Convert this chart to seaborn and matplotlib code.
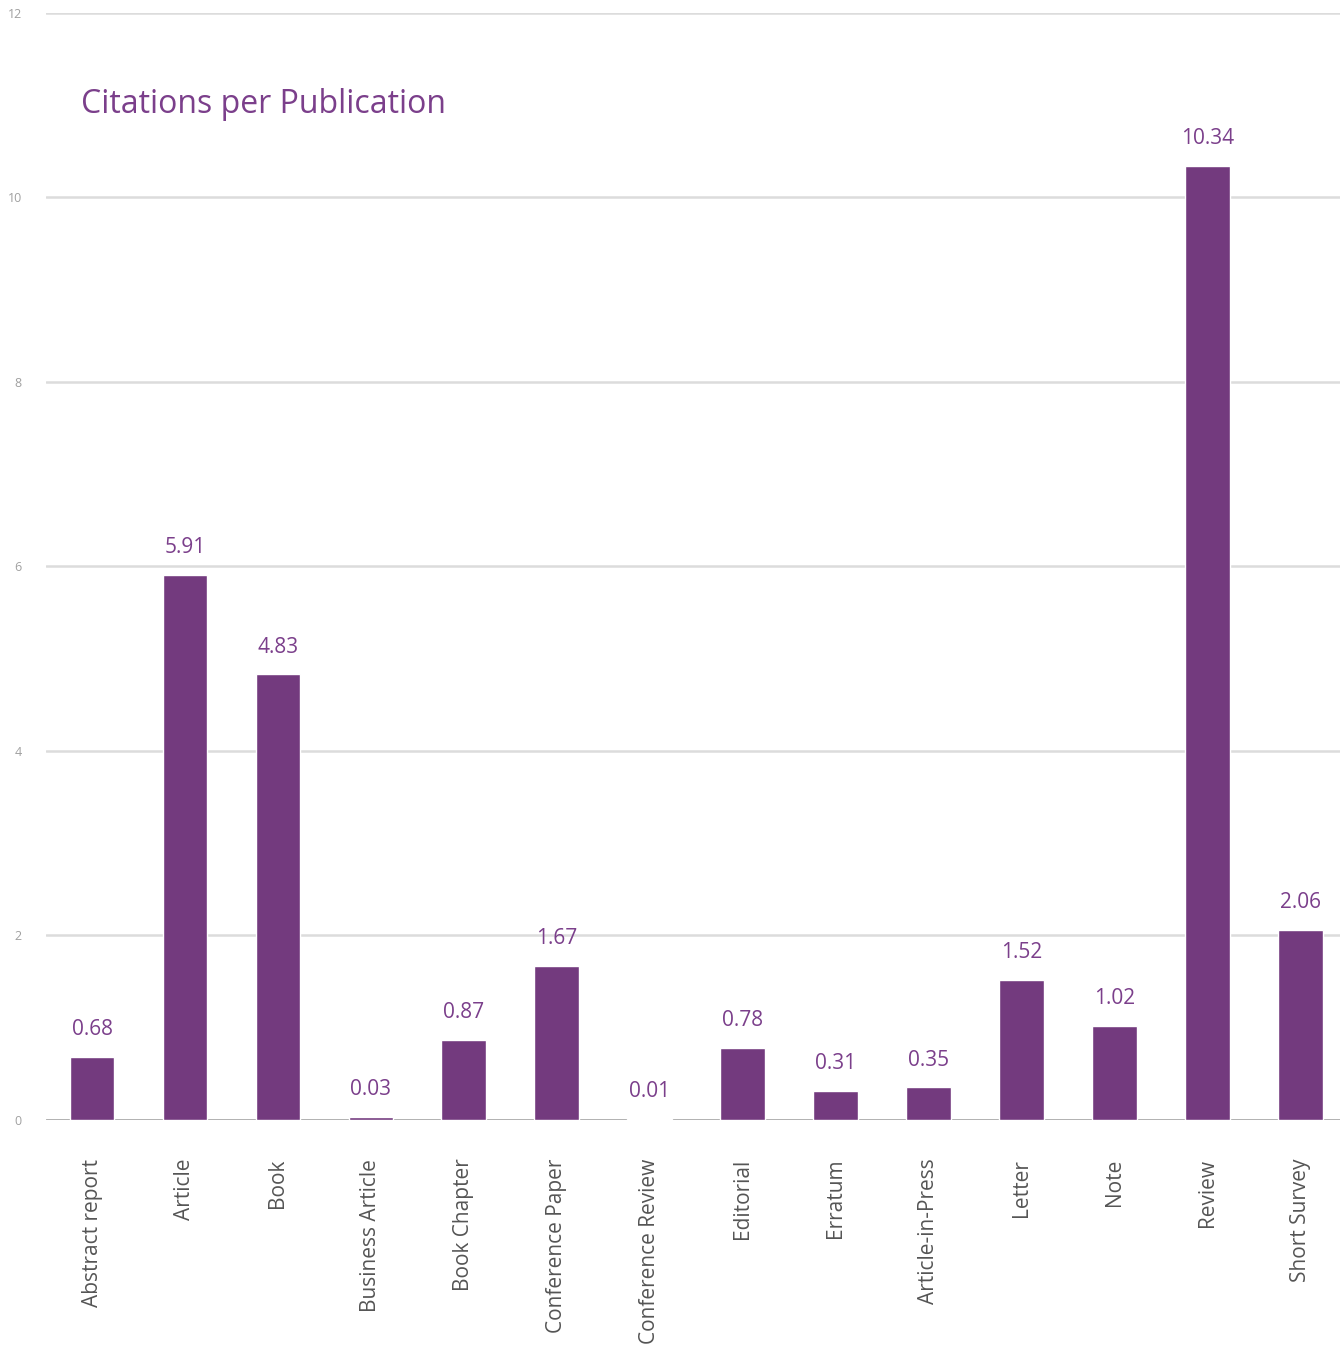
import seaborn as sns
import matplotlib.pyplot as plt
import pandas as pd

# 数据
categories = ['Abstract report', 'Article', 'Book', 'Business Article', 'Book Chapter',
              'Conference Paper', 'Conference Review', 'Editorial', 'Erratum',
              'Article-in-Press', 'Letter', 'Note', 'Review', 'Short Survey']
values = [0.68, 5.91, 4.83, 0.03, 0.87, 1.67, 0.01, 0.78, 0.31, 0.35, 1.52, 1.02, 10.34, 2.06]
y_ticks = [0, 2, 4, 6, 8, 10, 12]

df = pd.DataFrame({'type': categories, 'cpp': values})

sns.set_style('white')
plt.rcParams['font.family'] = ['Open Sans', 'DejaVu Sans']

bar_color = '#733a7e'
text_purple = '#7b3f8b'

fig = plt.figure(figsize=(13.4, 13.54), dpi=100)
ax = fig.add_axes([0.034, 0.173, 0.971, 0.8175])

# 网格线（放在柱子下面）
for t in y_ticks:
    ax.axhline(t, color='#9a9a9a' if t == 0 else '#dcdcdc', lw=1.8, zorder=0)

sns.barplot(data=df, x='type', y='cpp', color=bar_color, saturation=1, width=0.48, ax=ax, zorder=3)

# 数值标签
ax.bar_label(ax.containers[0], labels=[f'{v:.2f}' for v in values],
             padding=12, fontsize=15, color=text_purple)

ax.set_ylim(0, 12)
ax.set_xlim(-0.5, len(categories) - 0.5)
ax.set_yticks(y_ticks)
ax.set_yticklabels([str(t) for t in y_ticks], fontsize=9, color='#a0a0a0')

ax.tick_params(axis='x', labelrotation=90, labelsize=15, labelcolor='#555555', length=0, pad=28)
ax.tick_params(axis='y', length=0, pad=17)
for lbl in ax.get_xticklabels():
    lbl.set_verticalalignment('top')

ax.set_xlabel('')
ax.set_ylabel('')
for s in ax.spines.values():
    s.set_visible(False)

ax.text(0.027, 0.917, 'Citations per Publication', transform=ax.transAxes,
        fontsize=23, color=text_purple, ha='left', va='center')

fig.savefig('out.png', dpi=100)
